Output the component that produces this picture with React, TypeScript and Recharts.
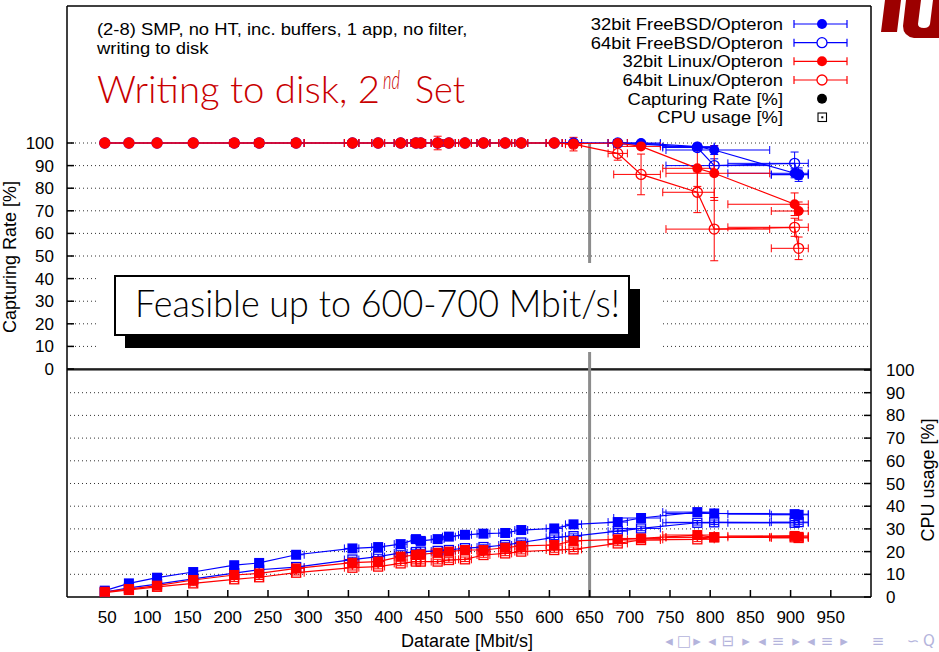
import React from "react";
import { ComposedChart, Scatter, XAxis, YAxis, ErrorBar, ReferenceLine } from "recharts";

// measured datarates [Mbit/s] and their min/max spread
const rates = [47, 77, 112, 157, 208, 239, 285, 355, 387, 415, 434, 440, 461, 475, 495, 518, 545, 565, 606, 630, 685, 714, 784, 805, 905, 910];
const rateErr = [[3, 3], [3, 3], [4, 4], [4, 4], [5, 5], [5, 5], [5, 10], [10, 8], [8, 8], [8, 8], [6, 6], [6, 6], [8, 8], [8, 8], [8, 8], [8, 8], [8, 8], [8, 8], [10, 10], [10, 10], [12, 12], [34, 24], [43, 21], [60, 69], [83, 17], [34, 12]];

// capturing rate [%]
const capF32 = [100, 100, 100, 100, 100, 100, 100, 100, 100, 100, 100, 100, 100, 100, 100, 100, 100, 100, 100, 100, 100, 100, 98.4, 96.9, 86.6, 86];
const capF64 = [100, 100, 100, 100, 100, 100, 100, 100, 100, 100, 100, 100, 100, 100, 100, 100, 100, 100, 100, 100, 100, 99.5, 98, 90, 91, 86];
const capL32 = [100, 100, 100, 100, 100, 100, 100, 100, 100, 100, 100, 100, 100, 100, 100, 100, 100, 100, 100, 99.7, 100, 98.5, 88.8, 86.6, 72.9, 69.9];
const capL64 = [100, 100, 100, 100, 100, 100, 100, 100, 100, 100, 100, 100, 100, 100, 100, 100, 100, 100, 100, 99.5, 95.4, 86.1, 78.2, 61.9, 62.7, 53.4];
const capErrF32 = [0, 0, 0, 0, 0, 0, 0, 0, 0, 0, 0, 0, 0, 0, 0, 0, 0, 0, 0, 0, 0.5, 0.5, 1.5, 2, 2, 2];
const capErrF64 = [0, 0, 0, 0, 0, 0, 0, 0, 0, 0, 0, 0, 0, 0, 0, 0, 0, 0, 0, 0, 0.5, 1, 1.5, 3, 5, 3];
const capErrL32 = [0, 0, 0, 0, 0, 0, 0, 0, 0, 0, 0, 0, 0, 0, 0, 0, 0, 0, 0, 1.5, 0.5, 1, 8, 12, 5, 4];
const capErrL64 = [0, 0, 0, 0, 0, 0, 0, 0, 0, 0, 0, 0, 3, 0, 0, 0, 0, 0, 0, 3, 3, 9, 9, 14, 4, 5];

// CPU usage [%]
const cpuF32 = [2.8, 6, 8.5, 11, 14, 15, 18.6, 21.4, 22, 23.3, 25.5, 24.7, 25.5, 26.6, 27.4, 27.9, 28.2, 29.5, 30.2, 32, 33, 34.8, 37.4, 36.8, 36.5, 36.2];
const cpuF64 = [2.2, 4, 5.7, 8, 10.5, 12, 13.2, 16.5, 17.8, 19.4, 19.8, 20, 20.3, 20.7, 21.5, 22, 22.9, 24, 26.3, 26.8, 29, 30.2, 32.7, 32.9, 32.7, 33];
const cpuL32 = [2.3, 3.5, 5, 7.5, 9.7, 10.4, 12.6, 15.1, 15.6, 17.8, 18.5, 18.8, 19.5, 20, 20.7, 20.7, 21.7, 22.5, 22.9, 24.7, 25.4, 25.8, 27.3, 26.3, 26.9, 26.5];
const cpuL64 = [1.9, 3.1, 4.5, 6, 7.8, 8.7, 10.7, 12.9, 13.4, 14.8, 15.6, 15.6, 15.6, 16.3, 16.6, 18.5, 19.2, 20, 20.7, 21, 23.6, 25.1, 25.4, 26.3, 26.3, 26];
const cpuErr = 1;

const xTicks = [50, 100, 150, 200, 250, 300, 350, 400, 450, 500, 550, 600, 650, 700, 750, 800, 850, 900, 950];
const pctTicks = [0, 10, 20, 30, 40, 50, 60, 70, 80, 90, 100];
const capGrid = [10, 20, 30, 40, 50, 60, 70, 80, 90, 100];
const cpuGrid = [10, 20, 30, 40, 50, 60, 70, 80, 90];

const BLUE = "#0000ff";
const RED = "#ff0000";
const FONT = '"Liberation Sans", Arial, sans-serif';
const SLIDE_FONT = "Lato, 'Open Sans', sans-serif";

// top panel occupies 0..100 on "cap", bottom panel 0..100 on "cpu"
const CAP_DOMAIN = [-100.88, 160.62];
const CPU_DOMAIN = [0, 260.35];

const mk = (ys: number[], errs: number[] | number) =>
  rates.map((x, i) => ({ x, y: ys[i], xErr: rateErr[i], yErr: Array.isArray(errs) ? errs[i] : errs }));

const dot = (c: string) => (p: any) => <circle cx={p.cx} cy={p.cy} r={5} fill={c} />;
const ring = (c: string) => (p: any) => (
  <circle cx={p.cx} cy={p.cy} r={5} fill="none" stroke={c} strokeWidth={1.3} />
);
const box = (c: string) => (p: any) => <rect x={p.cx - 5} y={p.cy - 5} width={10} height={10} fill={c} />;
const openBox = (c: string) => (p: any) => (
  <g>
    <rect x={p.cx - 4.5} y={p.cy - 4.5} width={9} height={9} fill="none" stroke={c} strokeWidth={1.3} />
    <rect x={p.cx - 1} y={p.cy - 1} width={2} height={2} fill={c} />
  </g>
);

const series = [
  { name: "32bit FreeBSD/Opteron", color: BLUE, cap: mk(capF32, capErrF32), cpu: mk(cpuF32, cpuErr), capShape: dot(BLUE), cpuShape: box(BLUE), filled: true },
  { name: "64bit FreeBSD/Opteron", color: BLUE, cap: mk(capF64, capErrF64), cpu: mk(cpuF64, cpuErr), capShape: ring(BLUE), cpuShape: openBox(BLUE), filled: false },
  { name: "32bit Linux/Opteron", color: RED, cap: mk(capL32, capErrL32), cpu: mk(cpuL32, cpuErr), capShape: dot(RED), cpuShape: box(RED), filled: true },
  { name: "64bit Linux/Opteron", color: RED, cap: mk(capL64, capErrL64), cpu: mk(cpuL64, cpuErr), capShape: ring(RED), cpuShape: openBox(RED), filled: false },
];

const noLabel = () => <g />;
const tickStyle = { fill: "#000", fontSize: 17, fontFamily: FONT };
const axisStroke = { stroke: "#000", strokeWidth: 1.5 };

const navGlyphs = [
  { t: "◂", x: 669 }, { t: "□", x: 684 }, { t: "▸", x: 697 },
  { t: "◂", x: 712 }, { t: "⊟", x: 728 }, { t: "▸", x: 746 },
  { t: "◂", x: 762 }, { t: "≡", x: 778 }, { t: "▸", x: 796 },
  { t: "◂", x: 811 }, { t: "≡", x: 827 }, { t: "▸", x: 844 },
  { t: "≡", x: 878 }, { t: "∽", x: 913 }, { t: "Q", x: 929 },
];

// small text, widened to the reference width without growing its height
function Wide({ x, y, anchor = "start", children }: { x: number; y: number; anchor?: string; children: React.ReactNode }) {
  return (
    <text transform={`translate(${x},${y}) scale(1.15,1)`} textAnchor={anchor} fontSize={16} fontFamily={FONT}>
      {children}
    </text>
  );
}

function Overlay() {
  const legendY = [24, 42.7, 61.3, 80];
  return (
    <svg width={939} height={652} style={{ position: "absolute", left: 0, top: 0, pointerEvents: "none" }}>
      <line x1={67} y1={6} x2={871} y2={6} stroke="#000" strokeWidth={1.5} />

      {/* logo fragment */}
      <polygon points="885,0 901,0 897,32 881,32" fill="#9c0000" />
      <path d="M906,0 L921,0 L918,24 Q918,28 924,28 Q929,28 930,24 L933,0 L939,0 L939,38 L914,38 Q903,36 903,26 Z" fill="#9c0000" />

      {/* subtitle */}
      <Wide x={97} y={35}>(2-8) SMP, no HT, inc. buffers, 1 app, no filter,</Wide>
      <Wide x={97} y={54}>writing to disk</Wide>

      {/* slide title */}
      <text x={97} y={103} fontSize={37} fontWeight={300} fontFamily={SLIDE_FONT} fill="#c80000" textLength={283} lengthAdjust="spacingAndGlyphs">Writing to disk, 2</text>
      <text x={383} y={89} fontSize={25} fontWeight={300} fontStyle="italic" fontFamily={SLIDE_FONT} fill="#c80000" textLength={17} lengthAdjust="spacingAndGlyphs">nd</text>
      <text x={415} y={103} fontSize={37} fontWeight={300} fontFamily={SLIDE_FONT} fill="#c80000" textLength={50} lengthAdjust="spacingAndGlyphs">Set</text>

      {/* key */}
      {series.map((s, i) => (
        <g key={s.name}>
          <Wide x={783} y={legendY[i] + 5.8} anchor="end">{s.name}</Wide>
          <line x1={794} y1={legendY[i]} x2={847} y2={legendY[i]} stroke={s.color} strokeWidth={1.2} />
          <line x1={794} y1={legendY[i] - 4} x2={794} y2={legendY[i] + 4} stroke={s.color} strokeWidth={1.2} />
          <line x1={847} y1={legendY[i] - 4} x2={847} y2={legendY[i] + 4} stroke={s.color} strokeWidth={1.2} />
          {s.filled ? (
            <circle cx={822} cy={legendY[i]} r={5} fill={s.color} />
          ) : (
            <circle cx={822} cy={legendY[i]} r={5} fill="#fff" stroke={s.color} strokeWidth={1.3} />
          )}
        </g>
      ))}
      <Wide x={783} y={104.5} anchor="end">Capturing Rate [%]</Wide>
      <circle cx={822} cy={98.7} r={5} fill="#000" />
      <Wide x={783} y={123.2} anchor="end">CPU usage [%]</Wide>
      <rect x={818} y={113} width={8.5} height={8.5} fill="none" stroke="#000" strokeWidth={1.1} />
      <rect x={821.3} y={116.3} width={2} height={2} fill="#000" />

      {/* feasibility note */}
      <rect x={97} y={263} width={563} height={89} fill="#fff" />
      <rect x={125} y={289} width={515} height={59} fill="#000" />
      <rect x={115} y={276} width={514} height={59} fill="#fff" stroke="#000" strokeWidth={2} />
      <text x={135} y={317} fontSize={37} fontWeight={300} fontFamily={SLIDE_FONT} textLength={485} lengthAdjust="spacingAndGlyphs">Feasible up to 600-700 Mbit/s!</text>

      {/* axis titles */}
      <text transform="translate(16,257) rotate(-90)" textAnchor="middle" fontSize={18} fontFamily={FONT}>Capturing Rate [%]</text>
      <text transform="translate(934,480) rotate(-90)" textAnchor="middle" fontSize={18} fontFamily={FONT}>CPU usage [%]</text>
      <text x={467} y={647} textAnchor="middle" fontSize={18} fontFamily={FONT}>Datarate [Mbit/s]</text>

      {navGlyphs.map((g, i) => (
        <text key={i} x={g.x} y={646} textAnchor="middle" fontSize={15} fontFamily="DejaVu Sans" fill="#b4b4dc">{g.t}</text>
      ))}
    </svg>
  );
}

export default function App() {
  return (
    <div style={{ position: "absolute", left: 0, top: 0, width: 939, height: 652, background: "#fff" }}>
      <ComposedChart width={939} height={652} margin={{ top: 6, right: 0, bottom: 0, left: 0 }}>
        <XAxis xAxisId="x" type="number" dataKey="x" domain={[0, 1000]} ticks={xTicks} interval={0} allowDataOverflow
          height={55} tickSize={-7} tickMargin={21} tick={tickStyle} axisLine={axisStroke} tickLine={axisStroke} />
        <YAxis yAxisId="cap" type="number" dataKey="y" domain={CAP_DOMAIN} ticks={pctTicks} interval={0} allowDataOverflow
          width={67} tickSize={-7} tickMargin={20} tick={tickStyle} axisLine={axisStroke} tickLine={axisStroke} />
        <YAxis yAxisId="cpuL" type="number" dataKey="y" domain={CPU_DOMAIN} ticks={pctTicks} interval={0} allowDataOverflow
          width={0} tickSize={-7} tick={noLabel} axisLine={false} tickLine={axisStroke} />
        <YAxis yAxisId="cpu" orientation="right" type="number" dataKey="y" domain={CPU_DOMAIN} ticks={pctTicks} interval={0} allowDataOverflow
          width={68} tickSize={-7} tickMargin={22} tick={tickStyle} axisLine={axisStroke} tickLine={axisStroke} />
        <YAxis yAxisId="capR" orientation="right" type="number" dataKey="y" domain={CAP_DOMAIN} ticks={pctTicks} interval={0} allowDataOverflow
          width={0} tickSize={-7} tick={noLabel} axisLine={false} tickLine={axisStroke} />

        {capGrid.map((v) => (
          <ReferenceLine key={"cg" + v} xAxisId="x" yAxisId="cap" y={v} stroke="#333" strokeDasharray="1 3" />
        ))}
        {cpuGrid.map((v) => (
          <ReferenceLine key={"pg" + v} xAxisId="x" yAxisId="cpu" y={v} stroke="#333" strokeDasharray="1 3" />
        ))}
        <ReferenceLine xAxisId="x" yAxisId="cap" y={0} stroke="#000" strokeWidth={1.5} />
        <ReferenceLine xAxisId="x" yAxisId="cpu" y={100} stroke="#000" strokeWidth={1} />

        {series.map((s) => (
          <Scatter key={s.name + "-cap"} name={s.name} data={s.cap} xAxisId="x" yAxisId="cap" dataKey="y"
            line={{ stroke: s.color, strokeWidth: 1.2 }} lineType="joint" shape={s.capShape} isAnimationActive={false}>
            <ErrorBar dataKey="xErr" direction="x" width={4} stroke={s.color} strokeWidth={1} />
            <ErrorBar dataKey="yErr" direction="y" width={4} stroke={s.color} strokeWidth={1} />
          </Scatter>
        ))}
        {series.map((s) => (
          <Scatter key={s.name + "-cpu"} name={s.name} data={s.cpu} xAxisId="x" yAxisId="cpu" dataKey="y"
            line={{ stroke: s.color, strokeWidth: 1.2 }} lineType="joint" shape={s.cpuShape} isAnimationActive={false}>
            <ErrorBar dataKey="xErr" direction="x" width={4} stroke={s.color} strokeWidth={1} />
            <ErrorBar dataKey="yErr" direction="y" width={4} stroke={s.color} strokeWidth={1} />
          </Scatter>
        ))}

        <ReferenceLine xAxisId="x" yAxisId="cap" segment={[{ x: 650, y: 100 }, { x: 650, y: CAP_DOMAIN[0] }]}
          stroke="#8c8c8c" strokeWidth={3} />
      </ComposedChart>
      <Overlay />
    </div>
  );
}
